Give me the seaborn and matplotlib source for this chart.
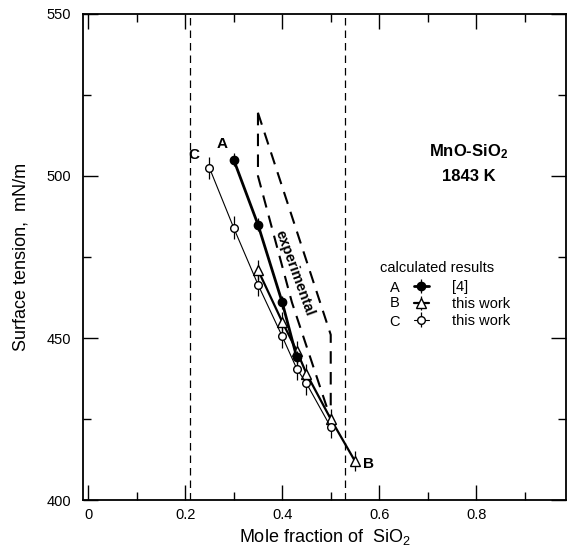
import matplotlib
matplotlib.use("Agg")
import matplotlib.pyplot as plt
from matplotlib.ticker import MultipleLocator, FixedLocator, FixedFormatter
import seaborn as sns
import pandas as pd

# calculated results
x_a = [0.30, 0.35, 0.40, 0.43]
y_a = [505.0, 485.0, 461.0, 444.0]
x_b = [0.35, 0.40, 0.43, 0.45, 0.50, 0.55]
y_b = [471.0, 455.0, 446.0, 439.0, 425.0, 412.0]
x_c = [0.25, 0.30, 0.35, 0.40, 0.43, 0.45, 0.50]
y_c = [502.5, 484.0, 466.5, 450.5, 440.5, 436.0, 422.5]
err_a, err_b, err_c = 2.0, 3.0, 3.5

# edges of the experimental band
x_exp_lo = [0.35, 0.35, 0.42, 0.50]
y_exp_lo = [519.5, 500.0, 461.0, 425.0]
x_exp_hi = [0.35, 0.50, 0.50]
y_exp_hi = [519.5, 451.0, 427.0]

# composition limits (dashed verticals)
x_guides = [0.21, 0.53]

xticks = [0, 0.2, 0.4, 0.6, 0.8]
xticklabels = ["0", "0.2", "0.4", "0.6", "0.8"]
yticks = [400, 450, 500, 550]

sns.set_style("ticks")
plt.rcParams["font.family"] = ["Liberation Sans", "DejaVu Sans"]
plt.rcParams["mathtext.default"] = "regular"
plt.rcParams["text.color"] = "black"
plt.rcParams["axes.labelcolor"] = "black"

fig = plt.figure(figsize=(5.68, 5.57), dpi=100)
ax = fig.add_axes([0.1467, 0.1023, 0.8498, 0.8726])

for xg in x_guides:
    ax.axvline(xg, color="black", lw=0.9, ls=(0, (6, 4)), zorder=1)

exp_lo = pd.DataFrame({"x": x_exp_lo, "y": y_exp_lo})
exp_hi = pd.DataFrame({"x": x_exp_hi, "y": y_exp_hi})
for d in (exp_lo, exp_hi):
    sns.lineplot(data=d, x="x", y="y", sort=False, estimator=None, ax=ax,
                 color="black", lw=1.5, dashes=False, zorder=2)
for line in ax.lines[-2:]:
    line.set_linestyle((0, (6, 4)))

ha = ax.errorbar(x_a, y_a, yerr=err_a, fmt="-o", color="black", mfc="black",
                 ms=6, lw=2.0, elinewidth=0.9, capsize=0, zorder=4)
hb = ax.errorbar(x_b, y_b, yerr=err_b, fmt="-^", color="black", mfc="white",
                 ms=6.5, lw=1.6, elinewidth=0.9, capsize=0, zorder=3)
hc = ax.errorbar(x_c, y_c, yerr=err_c, fmt="-o", color="black", mfc="white",
                 ms=5.5, lw=0.8, elinewidth=0.9, capsize=0, zorder=3)

ax.set_xlim(-0.01, 0.985)
ax.set_ylim(400, 550)

ax.xaxis.set_major_locator(FixedLocator(xticks))
ax.xaxis.set_major_formatter(FixedFormatter(xticklabels))
ax.xaxis.set_minor_locator(MultipleLocator(0.1))
ax.yaxis.set_major_locator(FixedLocator(yticks))
ax.yaxis.set_minor_locator(MultipleLocator(25))
ax.tick_params(which="both", direction="in", top=True, right=True,
               width=1.0, labelsize=10.5, colors="black")
ax.tick_params(which="major", length=11, pad=6)
ax.tick_params(which="minor", length=6)
ax.tick_params(axis="y", pad=9)
for s in ax.spines.values():
    s.set_linewidth(1.3)
    s.set_color("black")

ax.set_xlabel("Mole fraction of  SiO$_2$", fontsize=13, labelpad=3)
ax.set_ylabel("Surface tension,  mN/m", fontsize=13, labelpad=12)

ax.text(0.277, 510, "A", fontsize=11, fontweight="bold", ha="center", va="center")
ax.text(0.217, 506.5, "C", fontsize=11, fontweight="bold", ha="center", va="center")
ax.text(0.577, 411, "B", fontsize=11, fontweight="bold", ha="center", va="center")
ax.text(0.426, 470, "experimental", fontsize=10.5, fontweight="bold",
        rotation=-70, ha="center", va="center")
ax.text(0.785, 507.5, "MnO-SiO$_2$", fontsize=12, fontweight="bold", ha="center", va="center")
ax.text(0.785, 499.7, "1843 K", fontsize=12, fontweight="bold", ha="center", va="center")

ax.text(0.602, 471.6, "calculated results", fontsize=10.5, ha="left", va="center")
for letter, yl in zip(["A", "B", "C"], [465.5, 460.7, 455.0]):
    ax.text(0.632, yl, letter, fontsize=10.5, ha="center", va="center")
ax.legend([ha, hb, hc], ["[4]", "this work", "this work"], loc="upper left",
          bbox_to_anchor=(0.6716, 467.9), bbox_transform=ax.transData,
          frameon=False, fontsize=10.5, handlelength=1.0, handletextpad=1.6,
          labelspacing=0.2, borderpad=0, borderaxespad=0)

fig.savefig("out.png", dpi=100)
